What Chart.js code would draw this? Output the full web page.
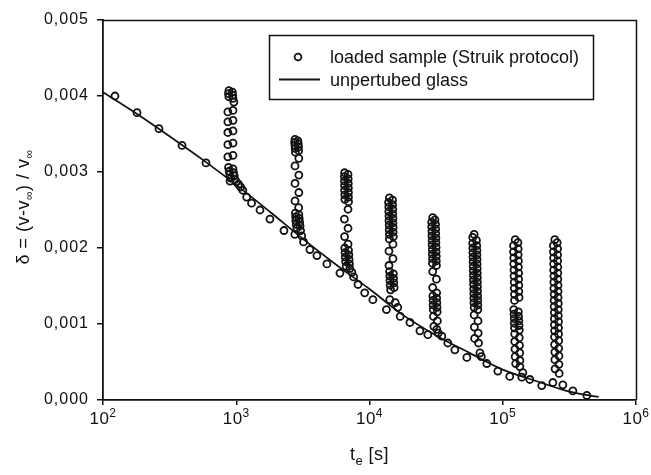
<!DOCTYPE html>
<html>
<head>
<meta charset="utf-8">
<script src="https://cdn.jsdelivr.net/npm/chart.js@4.4.1/dist/chart.umd.min.js"></script>
<style>
  html, body { margin: 0; padding: 0; background: #fff; }
  #c { display: block; }
</style>
</head>
<body>
<canvas id="c" width="651" height="475"></canvas>
<script>
/** DATA **/
const xTicks = [1e2, 1e3, 1e4, 1e5, 1e6];
const xExp = ['2', '3', '4', '5', '6'];
const yTicks = [0, 0.001, 0.002, 0.003, 0.004, 0.005];

// unpertubed glass (aging reference curve)
const glassT = [100, 178, 316, 562, 1000, 1778, 3162, 5623, 10000, 17783, 31623, 56234, 100000, 177828, 316228, 525000];
const glassD = [0.00405, 0.00377, 0.00347, 0.00316, 0.00283, 0.00248, 0.00212, 0.00178, 0.00146, 0.00112, 0.00085, 0.00062, 0.00040, 0.00025, 0.00011, 0.00004];

// loaded sample, [t_e, delta]
const aging0 = [[123,0.00400],[180,0.00378],[263,0.00357],[392,0.00335],[593,0.00312],[898,0.00288]];
const load1 = [[880,0.00407],[935,0.00405],[875,0.00403],[940,0.00401],[880,0.00399],[945,0.00397],[960,0.00392],
  [865,0.00379],[945,0.00381],[865,0.00366],[945,0.00368],[865,0.00352],[945,0.00354],[865,0.00336],[945,0.00338],[865,0.00320],[945,0.00322],
  [875,0.00306],[945,0.00304],[885,0.00301],[955,0.00299],[895,0.00297],[965,0.00295],[910,0.00292],[980,0.00290],[1000,0.00287],[1040,0.00284],[1080,0.00280],[1120,0.00276],
  [1197,0.00267],[1303,0.00259],[1507,0.00250],[1790,0.00238],[2280,0.00223]];
const load2 = [[2760,0.00343],[2900,0.00341],[2740,0.00339],[2920,0.00337],[2760,0.00335],[2930,0.00333],[2770,0.00331],[2940,0.00328],[2780,0.00326],
  [2950,0.00318],[2760,0.00308],[2950,0.00296],[2760,0.00285],[2950,0.00273],[2760,0.00262],[2940,0.00253],
  [2780,0.00246],[2950,0.00244],[2790,0.00241],[2970,0.00239],[2800,0.00236],[2990,0.00234],[2820,0.00231],[3010,0.00229],[2850,0.00226],[3040,0.00223],
  [2750,0.00218],[3100,0.00216],[3200,0.00208],[3570,0.00198],[4030,0.00190],[4790,0.00179],[6000,0.00167]];
const load3 = [[6500,0.00299],[6900,0.00297],[6480,0.00294],[6920,0.00291],[6480,0.00288],[6930,0.00285],[6500,0.00282],[6940,0.00279],[6500,0.00276],[6950,0.00273],[6520,0.00270],[6950,0.00267],[6530,0.00264],[6960,0.00261],
  [6900,0.00251],[6480,0.00238],[6900,0.00226],[6500,0.00215],[6900,0.00205],
  [6520,0.00200],[6960,0.00197],[6550,0.00194],[7000,0.00191],[6580,0.00188],[7030,0.00185],[6620,0.00182],[7070,0.00179],[6680,0.00176],[7120,0.00173],
  [7380,0.00168],[7600,0.00162],[8200,0.00152],[9200,0.00141],[10600,0.00132],[13400,0.00119]];
const load4 = [[14100,0.00266],[14900,0.00263],[13900,0.00260],[14900,0.00257],[13950,0.00254],[14950,0.00251],[13950,0.00248],[14950,0.00245],[14000,0.00242],[15000,0.00239],[14000,0.00236],[15000,0.00233],[14050,0.00230],[15050,0.00227],[14050,0.00224],[15050,0.00221],[14100,0.00218],[15100,0.00215],[14100,0.00212],
  [15000,0.00205],[14000,0.00196],[15000,0.00186],[14000,0.00177],
  [14150,0.00169],[15100,0.00166],[14200,0.00163],[15150,0.00160],[14250,0.00157],[15200,0.00154],[14300,0.00151],[15300,0.00148],[14400,0.00145],
  [14200,0.00132],[15600,0.00128],[16300,0.00122],[17000,0.00110],[20100,0.00102],[23900,0.00091],[27400,0.00086]];
const load5 = [[29800,0.00240],[31000,0.00237],[29300,0.00234],[31300,0.00231],[29300,0.00228],[31400,0.00225],[29400,0.00222],[31400,0.00219],[29400,0.00216],[31500,0.00213],[29500,0.00210],[31500,0.00207],[29500,0.00204],[31600,0.00201],[29600,0.00198],[31600,0.00195],[29600,0.00192],[31700,0.00189],[29700,0.00186],[31700,0.00183],[29700,0.00180],[31800,0.00177],
  [29800,0.00169],[31800,0.00159],[29800,0.00148],[31900,0.00141],
  [29900,0.00137],[31900,0.00134],[30000,0.00131],[32000,0.00128],[30000,0.00125],[32100,0.00122],[30100,0.00119],[32200,0.00116],
  [30200,0.00110],[32300,0.00104],[30400,0.00097],
  [32000,0.00093],[32800,0.00088],[34900,0.00084],[38700,0.00075],[43700,0.00066],[53800,0.00056]];
const load6 = [[61000,0.00218],[59500,0.00214],[63500,0.00210],[59500,0.00206],
  [63800,0.00203],[59600,0.00200],[64000,0.00197],[59700,0.00194],[64000,0.00191],[59800,0.00188],[64100,0.00185],[59900,0.00182],[64200,0.00179],[60000,0.00176],[64300,0.00173],[60100,0.00170],[64400,0.00167],[60200,0.00164],[64500,0.00161],[60300,0.00158],[64500,0.00155],[60400,0.00152],[64600,0.00149],[60500,0.00146],[64700,0.00143],[60600,0.00140],[64800,0.00137],[60700,0.00134],[64900,0.00131],[60800,0.00128],[65000,0.00125],[61000,0.00122],[65000,0.00119],
  [61000,0.00112],[65200,0.00104],[61200,0.00096],[65400,0.00088],[61500,0.00081],[65800,0.00075],
  [67400,0.00062],[69000,0.00057],[75900,0.00048],[91800,0.00038]];
const load7 = [[124000,0.00211],[130000,0.00207],[120500,0.00203],[130500,0.00199],[120500,0.00195],[130500,0.00191],[121000,0.00187],[131000,0.00183],[121000,0.00179],[131000,0.00175],[121500,0.00171],[131500,0.00167],[121500,0.00163],[131500,0.00159],[122000,0.00155],[132000,0.00151],[122000,0.00147],[132000,0.00143],[122500,0.00139],[132500,0.00135],[122500,0.00131],
  [121000,0.00119],[131000,0.00116],[121500,0.00113],[131500,0.00110],[122000,0.00107],[132000,0.00104],[122000,0.00101],[132500,0.00098],[122500,0.00095],[133000,0.00092],
  [123000,0.00087],[133000,0.00082],[123000,0.00077],[133500,0.00072],[123500,0.00067],[134000,0.00062],[124000,0.00057],[134500,0.00052],[125000,0.00048],
  [134400,0.00044],[141500,0.00036],[112900,0.00031],[139000,0.00030],[159600,0.00027],[196200,0.00019]];
const load8 = [[246000,0.00211],[256000,0.00207],[240000,0.00203],[258000,0.00199],[240000,0.00195],[258000,0.00191],[241000,0.00187],[258000,0.00183],[241000,0.00179],[259000,0.00175],[241000,0.00171],[259000,0.00167],[242000,0.00163],[259000,0.00159],[242000,0.00155],[260000,0.00151],[242000,0.00147],[260000,0.00143],[243000,0.00139],[260000,0.00135],[243000,0.00131],[261000,0.00127],[243000,0.00123],[261000,0.00119],[244000,0.00115],[261000,0.00111],[244000,0.00107],[262000,0.00103],[244000,0.00099],[262000,0.00095],[245000,0.00091],[262000,0.00087],[245000,0.00083],[263000,0.00078],[245000,0.00073],[263000,0.00068],[246000,0.00063],[264000,0.00058],[246000,0.00053],[264000,0.00047],[247000,0.00041],[265000,0.00035],
  [237800,0.00023],[282500,0.00020],[335800,0.00012],[427600,0.00006]];

const loadedLabel = 'loaded sample (Struik protocol)';
const glassLabel = 'unpertubed glass';

/** HELPERS **/
const INK = '#111';
const FONT = 'Arial, "Liberation Sans", Helvetica, sans-serif';

function runsWidth(ctx, runs) {
  let w = 0;
  runs.forEach(r => { ctx.font = r[1] + 'px ' + FONT; w += ctx.measureText(r[0]).width; });
  return w;
}
// draw a run of [text, size, dy] pieces starting at x
function drawRuns(ctx, runs, x, y) {
  let cx = x;
  runs.forEach(r => {
    ctx.font = r[1] + 'px ' + FONT;
    ctx.fillText(r[0], cx, y + r[2]);
    cx += ctx.measureText(r[0]).width;
  });
  return cx;
}

const decorPlugin = {
  id: 'decor',
  beforeDraw(chart) {
    chart.ctx.letterSpacing = '1px';
  },
  afterDraw(chart) {
    const ctx = chart.ctx;
    const a = chart.chartArea;
    const xs = chart.scales.x;
    ctx.save();
    ctx.fillStyle = INK;
    ctx.strokeStyle = INK;
    ctx.textAlign = 'left';
    ctx.textBaseline = 'alphabetic';

    // frame top / right
    ctx.letterSpacing = '0px';
    ctx.lineWidth = 1.5;
    ctx.beginPath();
    ctx.moveTo(a.left, a.top + 0.5);
    ctx.lineTo(a.right + 0.5, a.top + 0.5);
    ctx.lineTo(a.right + 0.5, a.bottom);
    ctx.stroke();

    // x tick labels 10^n
    ctx.letterSpacing = '0.5px';
    xTicks.forEach((v, i) => {
      const runs = [['10', 17, 0], [xExp[i], 12, -7]];
      const w = runsWidth(ctx, runs);
      drawRuns(ctx, runs, xs.getPixelForValue(v) - w / 2, 424);
    });

    // x title
    const xt = [['t', 18, 0], ['e', 13, 5], [' [s]', 18, 0]];
    drawRuns(ctx, xt, (a.left + a.right) / 2 - runsWidth(ctx, xt) / 2, 460);

    // y title
    const yt = [['\u03b4 = (v-v', 18, 0], ['\u221e', 12, 4], [') / v', 18, 0], ['\u221e', 12, 4]];
    ctx.save();
    ctx.translate(29, 207);
    ctx.rotate(-Math.PI / 2);
    drawRuns(ctx, yt, -runsWidth(ctx, yt) / 2, 0);
    ctx.restore();

    // legend box
    ctx.letterSpacing = '0px';
    ctx.lineWidth = 1.5;
    ctx.strokeRect(269.5, 35.5, 324, 64);
    ctx.lineWidth = 1.8;
    ctx.beginPath();
    ctx.arc(298, 57, 3.4, 0, Math.PI * 2);
    ctx.stroke();
    ctx.beginPath();
    ctx.moveTo(279, 79.5);
    ctx.lineTo(320, 79.5);
    ctx.stroke();
    ctx.font = '18px ' + FONT;
    ctx.fillText(chart.data.datasets[0].label, 330, 63);
    ctx.fillText(chart.data.datasets[1].label, 330, 86);
    ctx.restore();
  }
};

/** CHART **/
const loadedPts = [].concat(aging0, load1, load2, load3, load4, load5, load6, load7, load8)
  .map(p => ({ x: p[0], y: p[1] }));
const glassPts = glassT.map((t, i) => ({ x: t, y: glassD[i] }));

new Chart(document.getElementById('c'), {
  type: 'scatter',
  data: {
    datasets: [
      {
        label: loadedLabel,
        data: loadedPts,
        pointStyle: 'circle',
        pointRadius: 3.5,
        borderWidth: 1.8,
        borderColor: INK,
        backgroundColor: 'rgba(0,0,0,0)',
        showLine: false
      },
      {
        label: glassLabel,
        type: 'line',
        data: glassPts,
        borderColor: INK,
        borderWidth: 1.7,
        pointRadius: 0,
        cubicInterpolationMode: 'monotone',
        fill: false
      }
    ]
  },
  options: {
    responsive: false,
    animation: false,
    devicePixelRatio: 1,
    layout: { padding: { top: 20, right: 15, left: 0, bottom: 0 } },
    plugins: { legend: { display: false }, tooltip: { enabled: false } },
    scales: {
      x: {
        type: 'logarithmic',
        min: 100,
        max: 1e6,
        afterBuildTicks: s => { s.ticks = xTicks.map(v => ({ value: v })); },
        afterFit: s => { s.height = 75; },
        ticks: { display: false },
        grid: { drawOnChartArea: false, tickLength: 5, color: INK, lineWidth: 1.5 },
        border: { color: INK, width: 1.8 }
      },
      y: {
        min: 0,
        max: 0.005,
        afterBuildTicks: s => { s.ticks = yTicks.map(v => ({ value: v })); },
        afterFit: s => { s.width = 103; },
        ticks: {
          callback: v => v.toFixed(3).replace('.', ','),
          color: INK,
          font: { family: FONT, size: 16 },
          padding: 8
        },
        grid: { drawOnChartArea: false, tickLength: 6, color: INK, lineWidth: 1.5 },
        border: { color: INK, width: 1.8 }
      }
    }
  },
  plugins: [decorPlugin]
});
</script>
</body>
</html>
